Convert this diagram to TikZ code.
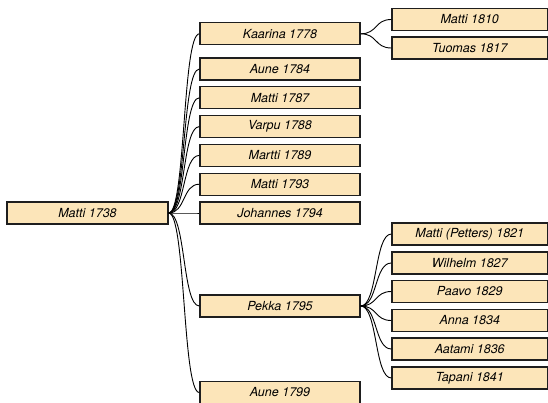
\documentclass[tikz,border=0pt]{standalone}
\usepackage{fontspec}
\setmainfont{TeX Gyre Heros}
\usepackage{tikz}
\definecolor{boxfill}{HTML}{FCE5B9}
\definecolor{boxline}{HTML}{1E1E1E}

\begin{document}
\begin{tikzpicture}
                        [x=1pt,y=-1pt,
                         person/.style={draw=boxline,fill=boxfill,line width=1.3pt,inner sep=0pt,
                                        minimum width=160pt,minimum height=22pt,
                                        font=\fontsize{12.5}{14}\selectfont\itshape},
                         kid/.style={person,minimum width=155.5pt},
                         link/.style={line width=0.9pt}]
                        \useasboundingbox (0,0) rectangle (548,402);
                        \clip (0,0) rectangle (548,402);
                        \node[person,minimum width=161pt] (v0) at (87.5,213) {Matti 1738};
                        \node[person] (v1) at (280,33.8) {Kaarina 1778};
                        \node[person] (v2) at (280,69) {Aune 1784};
                        \node[person] (v3) at (280,97.8) {Matti 1787};
                        \node[person] (v4) at (280,126.6) {Varpu 1788};
                        \node[person] (v5) at (280,155.4) {Martti 1789};
                        \node[person] (v6) at (280,184.2) {Matti 1793};
                        \node[person] (v7) at (280,213) {Johannes 1794};
                        \node[person] (v8) at (280,306) {Pekka 1795};
                        \node[person] (v9) at (280,392.5) {Aune 1799};
                        \node[kid] (w1) at (469.75,19.5) {Matti 1810};
                        \node[kid] (w2) at (469.75,48) {Tuomas 1817};
                        \node[kid] (w3) at (469.75,234) {Matti (Petters) 1821};
                        \node[kid] (w4) at (469.75,263) {Wilhelm 1827};
                        \node[kid] (w5) at (469.75,291.5) {Paavo 1829};
                        \node[kid] (w6) at (469.75,320.5) {Anna 1834};
                        \node[kid] (w7) at (469.75,349) {Aatami 1836};
                        \node[kid] (w8) at (469.75,378) {Tapani 1841};
                        \foreach \from/\to in {v0/v1,v0/v2,v0/v3,v0/v4,v0/v5,v0/v6,v0/v7,v0/v8,v0/v9,
                                               v1/w1,v1/w2,v8/w3,v8/w4,v8/w5,v8/w6,v8/w7,v8/w8}
                        \draw[link] (\from.east) .. controls +(17,0) and +(-17,0) .. (\to.west);
                    \end{tikzpicture}
\end{document}
